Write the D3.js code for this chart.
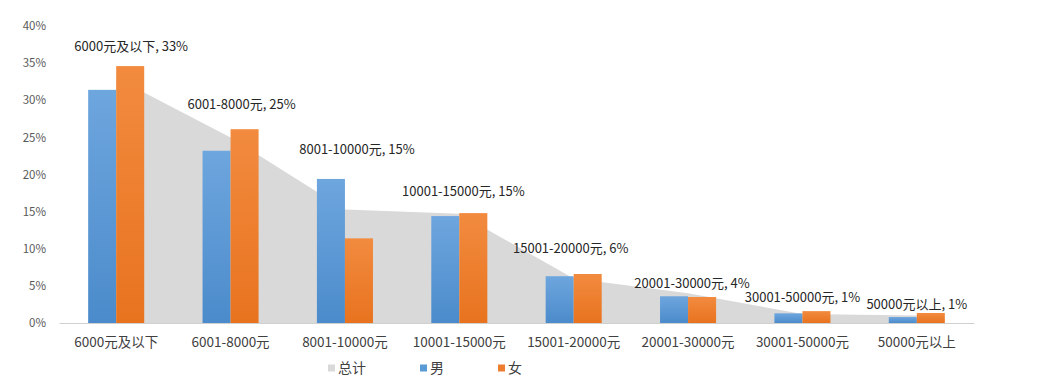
<!DOCTYPE html>
<html>
<head>
<meta charset="utf-8">
<script src="https://cdn.jsdelivr.net/npm/d3@7"></script>
<style>
  body { margin: 0; background: #fff; }
  text { font-family: "Noto Sans CJK SC", "Liberation Sans", sans-serif; }
</style>
</head>
<body>
<div id="chart"></div>
<script>
// data
let categories = ["6000元及以下", "6001-8000元", "8001-10000元", "10001-15000元",
                  "15001-20000元", "20001-30000元", "30001-50000元", "50000元以上"];
let totalValues = [33, 25, 15.3, 14.7, 6, 4, 1.2, 1];
let totalLabels = ["33%", "25%", "15%", "15%", "6%", "4%", "1%", "1%"];
let maleValues = [31.4, 23.2, 19.4, 14.4, 6.3, 3.6, 1.3, 0.8];
let femaleValues = [34.6, 26.1, 11.4, 14.8, 6.6, 3.5, 1.6, 1.35];
let yTicks = [0, 5, 10, 15, 20, 25, 30, 35, 40];
let seriesNames = ["总计", "男", "女"];

// label placement (Excel labels were dragged by hand)
let labelDx = [15, 11, 12, 4, -3, 4, 0, 0];
let labelDy = [-32, -33, -60, -22, -30, -10, -17, -11];

let svgWidth = 1037;
let svgHeight = 387;

let svg = d3.select("#chart")
    .append("svg")
    .attr("width", svgWidth)
    .attr("height", svgHeight);

let defs = svg.append("defs");
function grad(id, top, bottom) {
  let g = defs.append("linearGradient").attr("id", id)
      .attr("x1", 0).attr("y1", 0).attr("x2", 0).attr("y2", 1);
  g.append("stop").attr("offset", "0%").attr("stop-color", top);
  g.append("stop").attr("offset", "100%").attr("stop-color", bottom);
}
grad("gMale", "#6ea6de", "#4b8bcb");
grad("gFemale", "#f28b3f", "#e8731f");

// scales
let x0 = d3.scaleBand()
    .domain(categories)
    .range([59, 974])
    .paddingInner(0.51)
    .paddingOuter(0.255);
let x1 = d3.scaleBand()
    .domain(["男", "女"])
    .range([0, x0.bandwidth()]);
let y = d3.scaleLinear()
    .domain([0, 40])
    .range([323, 26]);

let cx = c => x0(c) + x0.bandwidth() / 2;

// total area (behind bars)
let area = d3.area()
    .x((d, i) => cx(categories[i]))
    .y0(y(0))
    .y1(d => y(d));
svg.append("path")
    .datum(totalValues)
    .attr("d", area)
    .attr("fill", "#d9d9d9");

// y axis labels
let yAxis = d3.axisLeft(y)
    .tickValues(yTicks)
    .tickFormat(d => d + "%")
    .tickSize(0)
    .tickPadding(0);
let yg = svg.append("g")
    .attr("transform", "translate(46,0)")
    .call(yAxis);
yg.select(".domain").remove();
yg.selectAll("text")
    .attr("fill", "#595959")
    .style("font-size", "11.5px");

// bars
let groups = svg.selectAll(".cat")
    .data(categories)
    .enter()
    .append("g")
    .attr("transform", c => `translate(${x0(c)},0)`);
groups.append("rect")
    .attr("x", x1("男"))
    .attr("width", x1.bandwidth())
    .attr("y", (c, i) => y(maleValues[i]))
    .attr("height", (c, i) => y(0) - y(maleValues[i]))
    .attr("fill", "url(#gMale)");
groups.append("rect")
    .attr("x", x1("女"))
    .attr("width", x1.bandwidth())
    .attr("y", (c, i) => y(femaleValues[i]))
    .attr("height", (c, i) => y(0) - y(femaleValues[i]))
    .attr("fill", "url(#gFemale)");

// x axis
let xAxis = d3.axisBottom(x0).tickSize(0).tickPadding(14);
let xg = svg.append("g")
    .attr("transform", `translate(0,${y(0)})`)
    .call(xAxis);
xg.select(".domain").attr("stroke", "#d0d0d0");
xg.selectAll("text")
    .attr("fill", "#404040")
    .style("font-size", "13.5px");

// data labels for total
svg.selectAll(".dlabel")
    .data(categories)
    .enter()
    .append("text")
    .attr("x", (c, i) => cx(c) + labelDx[i])
    .attr("y", (c, i) => y(totalValues[i]) + labelDy[i])
    .attr("dy", "0.35em")
    .attr("text-anchor", "middle")
    .attr("fill", "#262626")
    .style("font-size", "13px")
    .text((c, i) => `${c}, ${totalLabels[i]}`);

// legend
let legendColors = ["#d9d9d9", "#5b9bd5", "#ed7d31"];
let legendX = [328, 420, 498];
let legend = svg.selectAll(".leg")
    .data(seriesNames)
    .enter()
    .append("g")
    .attr("transform", (d, i) => `translate(${legendX[i]},368)`);
legend.append("rect")
    .attr("x", 0).attr("y", -3.5)
    .attr("width", 7).attr("height", 7)
    .attr("fill", (d, i) => legendColors[i]);
legend.append("text")
    .attr("x", 10)
    .attr("dy", "0.35em")
    .attr("fill", "#404040")
    .style("font-size", "14px")
    .text(d => d);
</script>
</body>
</html>
